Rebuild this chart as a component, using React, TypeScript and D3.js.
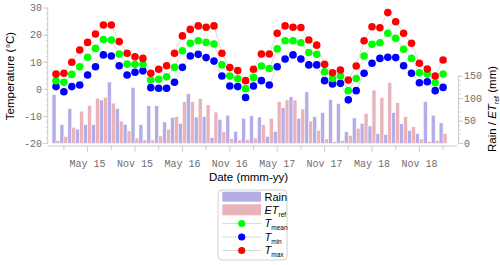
import React from 'react';
import * as d3 from 'd3';

const W = 500;
const H = 265;

// monthly series, Jan 2015 .. Feb 2019
const months = [
  '2015-01', '2015-02', '2015-03', '2015-04', '2015-05', '2015-06', '2015-07', '2015-08', '2015-09', '2015-10', '2015-11', '2015-12',
  '2016-01', '2016-02', '2016-03', '2016-04', '2016-05', '2016-06', '2016-07', '2016-08', '2016-09', '2016-10', '2016-11', '2016-12',
  '2017-01', '2017-02', '2017-03', '2017-04', '2017-05', '2017-06', '2017-07', '2017-08', '2017-09', '2017-10', '2017-11', '2017-12',
  '2018-01', '2018-02', '2018-03', '2018-04', '2018-05', '2018-06', '2018-07', '2018-08', '2018-09', '2018-10', '2018-11', '2018-12',
  '2019-01', '2019-02',
];

const rain = [
  109, 42, 78, 32, 42, 42, 97, 137, 78, 43, 125, 42,
  84, 84, 48, 58, 45, 111, 59, 60, 13, 54, 63, 27,
  56, 62, 59, 16, 27, 80, 104, 56, 115, 60, 69, 98,
  89, 26, 57, 45, 39, 22, 20, 69, 44, 29, 22, 93,
  63, 46,
];

const etRef = [
  7, 16, 36, 72, 85, 101, 103, 90, 50, 28, 12, 8,
  8, 17, 32, 60, 93, 93, 100, 86, 70, 26, 11, 8,
  9, 12, 42, 56, 94, 97, 97, 77, 50, 29, 10, 4,
  7, 18, 34, 67, 119, 102, 136, 91, 60, 37, 10, 5,
  7, 22,
];

const tMax = [
  5.6, 5.9, 10.0, 14.5, 17.3, 20.4, 23.7, 23.7, 17.6, 13.3, 12.0, 11.4,
  5.9, 7.4, 8.7, 13.3, 19.7, 22.1, 23.4, 22.9, 23.4, 13.3, 8.0, 6.9,
  3.2, 7.4, 13.0, 13.0, 20.7, 23.4, 22.9, 22.8, 18.2, 16.3, 9.2, 6.1,
  7.1, 3.4, 8.6, 17.9, 23.1, 22.7, 28.3, 24.9, 20.7, 17.0, 9.6, 7.5,
  4.9, 10.8,
];

const tMean = [
  3.2, 2.6, 5.5, 8.3, 11.8, 15.1, 18.4, 18.2, 13.0, 9.3, 9.2, 9.2,
  3.4, 3.7, 4.6, 8.1, 14.2, 17.0, 17.9, 17.3, 16.7, 9.0, 4.9, 3.9,
  0.2, 4.4, 8.6, 7.7, 14.9, 17.9, 17.9, 17.2, 13.6, 12.9, 6.5, 4.0,
  4.9, -0.5, 4.0, 12.3, 16.6, 17.2, 20.7, 18.8, 14.8, 11.4, 6.1, 5.6,
  2.4, 5.6,
];

const tMin = [
  1.0, -0.9, 1.0, 1.6, 5.3, 8.3, 12.7, 12.3, 8.7, 5.3, 6.3, 6.8,
  0.6, 0.4, 0.4, 2.6, 8.1, 12.3, 12.9, 11.7, 10.4, 4.9, 1.2, 1.0,
  -3.0, 1.2, 3.2, 1.6, 8.3, 11.2, 12.7, 11.2, 9.0, 9.0, 3.2, 2.0,
  2.2, -3.9, -0.5, 5.9, 9.6, 11.4, 11.8, 11.7, 8.7, 5.9, 2.4, 2.8,
  -0.5, 0.7,
];

const xTickLabels = ['May 15', 'Nov 15', 'May 16', 'Nov 16', 'May 17', 'Nov 17', 'May 18', 'Nov 18'];
const tempTicks = [-20, -10, 0, 10, 20, 30];
const rainTicks = [0, 50, 100, 150];

const colors = {
  rain: '#b5ade6',
  et: '#e9b3bb',
  tmean: '#00ff00',
  tmin: '#0000ff',
  tmax: '#ff0000',
  axis: '#cccccc',
  tickText: '#6e6e6e',
};

const parse = d3.timeParse('%Y-%m');
const fmt = d3.timeFormat('%b %y');

const sans = '"Liberation Sans", Arial, sans-serif';
const mono = '"Liberation Mono", "DejaVu Sans Mono", monospace';

export default function App() {
  const x = d3.scaleBand<string>().domain(months).range([52.05, 447.05]).paddingInner(0);
  const sub = d3.scaleBand<string>().domain(['rain', 'et']).range([0, x.bandwidth()]);
  const cx = (i: number) => (x(months[i]) as number) + x.bandwidth() / 2;

  const yT = d3.scaleLinear().domain([-20, 30]).range([143.5, 8]);
  const yR = d3.scaleLinear().domain([0, 302]).range([143.5, 8]);

  const line = d3
    .line<number>()
    .x((_, i) => cx(i))
    .y((d) => yT(d));

  const axisY = 146;
  const leftX = 47.7;
  const rightX = 458.5;

  // quarterly ticks (Feb, May, Aug, Nov), labels on May / Nov
  const labelled = new Set(xTickLabels);
  const quarterIdx = months
    .map((m, i) => ({ m, i }))
    .filter(({ m }) => [1, 4, 7, 10].includes((parse(m) as Date).getMonth()));

  const series = [
    { key: 'tmin', values: tMin, color: colors.tmin },
    { key: 'tmean', values: tMean, color: colors.tmean },
    { key: 'tmax', values: tMax, color: colors.tmax },
  ];

  const minorT = d3.range(-20, 30.01, 2);
  const minorR = d3.range(0, 150.01, 10);

  return (
    <svg width={W} height={H} style={{ position: 'absolute', left: 0, top: 0, background: '#fff' }}>
      {/* bars */}
      <g>
        {months.map((m, i) => (
          <g key={m}>
            <rect
              x={(x(m) as number) + (sub('rain') as number)}
              width={sub.bandwidth()}
              y={yR(rain[i])}
              height={yR(0) - yR(rain[i])}
              fill={colors.rain}
              stroke="#fff"
              strokeWidth={0.5}
            />
            <rect
              x={(x(m) as number) + (sub('et') as number)}
              width={sub.bandwidth()}
              y={yR(etRef[i])}
              height={yR(0) - yR(etRef[i])}
              fill={colors.et}
              stroke="#fff"
              strokeWidth={0.5}
            />
          </g>
        ))}
      </g>

      {/* connecting lines */}
      {series.map((s) => (
        <path key={s.key + '-l'} d={line(s.values) as string} fill="none" stroke="#cfcfcf" strokeWidth={0.8} />
      ))}
      {/* dots */}
      {series.map((s) => (
        <g key={s.key}>
          {s.values.map((v, i) => (
            <circle key={i} cx={cx(i)} cy={yT(v)} r={3.8} fill={s.color} />
          ))}
        </g>
      ))}

      {/* left axis */}
      <line x1={leftX} x2={leftX} y1={yT(30)} y2={yT(-20)} stroke={colors.axis} />
      {minorT.map((t) => (
        <line key={'mt' + t} x1={leftX - 2} x2={leftX} y1={yT(t)} y2={yT(t)} stroke={colors.axis} strokeWidth={0.8} />
      ))}
      {tempTicks.map((t) => (
        <g key={'t' + t}>
          <line x1={leftX - 4.5} x2={leftX} y1={yT(t)} y2={yT(t)} stroke={colors.axis} />
          <text x={42} y={yT(t) + 3.3} textAnchor="end" fontFamily={mono} fontSize={10} fill={colors.tickText}>
            {t}
          </text>
        </g>
      ))}

      {/* right axis */}
      <line x1={rightX} x2={rightX} y1={yR(150)} y2={yR(0)} stroke={colors.axis} />
      {minorR.map((t) => (
        <line key={'mr' + t} x1={rightX} x2={rightX + 2} y1={yR(t)} y2={yR(t)} stroke={colors.axis} strokeWidth={0.8} />
      ))}
      {rainTicks.map((t) => (
        <g key={'r' + t}>
          <line x1={rightX} x2={rightX + 4.5} y1={yR(t)} y2={yR(t)} stroke={colors.axis} />
          <text x={464} y={yR(t) + 3.3} fontFamily={mono} fontSize={10} fill={colors.tickText}>
            {t}
          </text>
        </g>
      ))}

      {/* bottom axis */}
      <line x1={leftX} x2={rightX - 1.5} y1={axisY} y2={axisY} stroke={colors.axis} />
      {quarterIdx.map(({ m, i }) => {
        const lab = fmt(parse(m) as Date);
        const major = labelled.has(lab);
        return (
          <g key={'q' + m}>
            <line x1={cx(i)} x2={cx(i)} y1={axisY} y2={axisY + (major ? 6 : 4)} stroke={colors.axis} />
            {major && (
              <text x={cx(i)} y={167} textAnchor="middle" fontFamily={mono} fontSize={10} fill={colors.tickText}>
                {lab}
              </text>
            )}
          </g>
        );
      })}

      {/* axis titles */}
      <text x={248.5} y={181} textAnchor="middle" fontFamily={sans} fontSize={11.5} fill="#000">
        Date (mmm-yy)
      </text>
      <text
        transform={`translate(13.5, 76) rotate(-90)`}
        textAnchor="middle"
        fontFamily={sans}
        fontSize={11.5}
        fill="#000"
      >
        Temperature (°C)
      </text>
      <text
        transform={`translate(495.5, 109) rotate(-90)`}
        textAnchor="middle"
        fontFamily={sans}
        fontSize={11.5}
        fill="#000"
      >
        Rain /{' '}
        <tspan fontStyle="italic">ET</tspan>
        <tspan fontSize={7} dy={3}>ref</tspan>
        <tspan dy={-3}> (mm)</tspan>
      </text>

      {/* legend */}
      <g fontFamily={sans} fontSize={11} fill="#000">
        <rect x={218} y={190} width={69} height={70} rx={4} fill="#fff" stroke="#d0d0d0" />
        <rect x={222.3} y={191.7} width={38.7} height={10} fill={colors.rain} />
        <text x={264.5} y={200.5}>Rain</text>
        <rect x={222.3} y={204.3} width={38.7} height={11} fill={colors.et} />
        <text x={264.5} y={213.5}>
          <tspan fontStyle="italic">ET</tspan>
          <tspan fontSize={6.5} dy={3}>ref</tspan>
        </text>
        {[
          { y: 223.5, color: colors.tmean, sub: 'mean' },
          { y: 237, color: colors.tmin, sub: 'min' },
          { y: 250.5, color: colors.tmax, sub: 'max' },
        ].map((d) => (
          <g key={d.sub}>
            <line x1={222.3} x2={261} y1={d.y} y2={d.y} stroke="#cfcfcf" strokeWidth={0.8} />
            <circle cx={241.7} cy={d.y} r={3.6} fill={d.color} />
            <text x={264.5} y={d.y + 3.5}>
              <tspan fontStyle="italic">T</tspan>
              <tspan fontSize={6.5} dy={3}>{d.sub}</tspan>
            </text>
          </g>
        ))}
      </g>
    </svg>
  );
}
